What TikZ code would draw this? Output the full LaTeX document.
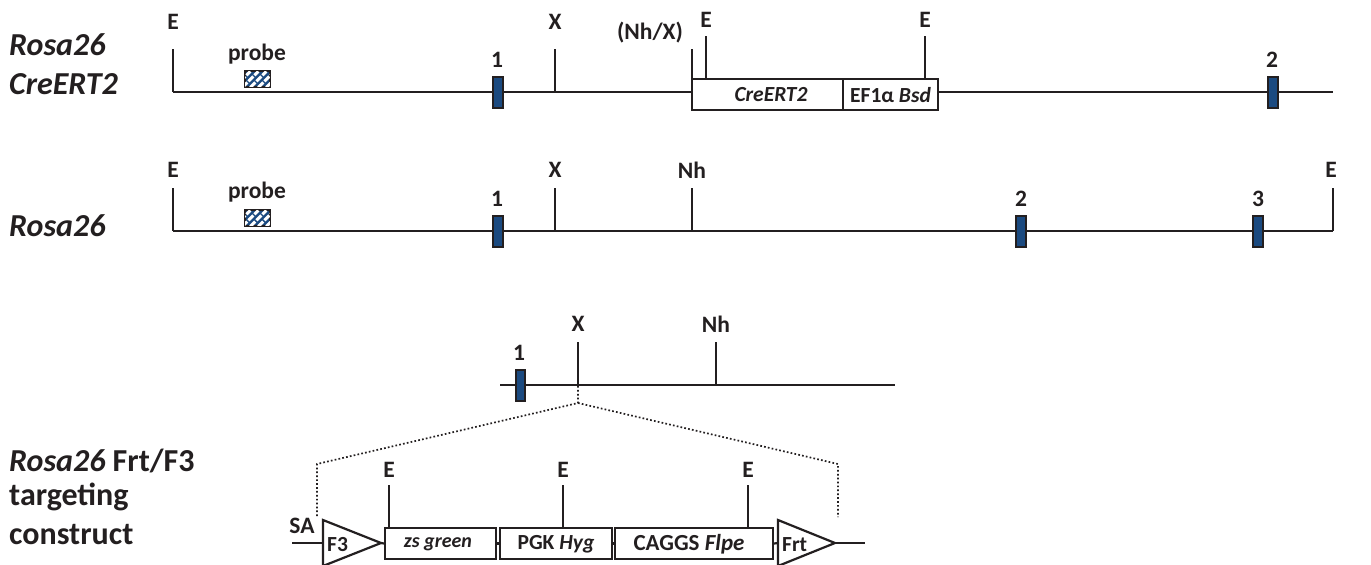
\documentclass[tikz,border=0pt]{standalone}
\usepackage{fontspec}
\setmainfont{Carlito}
\definecolor{exonblue}{HTML}{1B4A80}
\definecolor{ink}{HTML}{231F20}
\tikzset{
  x=1pt,y=-1pt,
  backbone/.style={draw=ink,line width=2.2pt},
  sitetick/.style={draw=ink,line width=2.5pt},
  lbl/.style={font=\bfseries\fontsize{23.5}{26}\selectfont,text=ink,inner sep=0pt,anchor=center},
  inlbl/.style={font=\bfseries\fontsize{21.5}{24}\selectfont,text=ink,inner sep=0pt,anchor=center},
  title/.style={font=\bfseries\fontsize{32}{36}\selectfont,text=ink,inner sep=0pt,anchor=west},
  exon/.style={draw=ink,fill=exonblue,line width=1.7pt,minimum width=9.5pt,minimum height=31pt,inner sep=0pt},
  cassette/.style={draw=ink,fill=white,line width=2.2pt,inner sep=0pt},
  dots/.style={draw=ink,line width=1.7pt,dash pattern=on 1.7pt off 2.2pt},
  probebox/.style={draw=ink,fill=exonblue,line width=1.4pt,minimum width=25pt,minimum height=15.5pt,inner sep=0pt},
}
% name, x, top, bottom, label y, label x, text
\newcommand{\rsite}[7]{%
  \coordinate (#1t) at (#2,#3);
  \coordinate (#1b) at (#2,#4);
  \node[lbl] (#1l) at (#6,#5) {#7};
  \draw[sitetick] (#1t) -- (#1b);
}
\newcommand{\probe}[3]{%
  \node[probebox] (#1) at (#2,#3) {};
  \begin{scope}
    \clip (#1.south west) rectangle (#1.north east);
    \foreach \d in {-10,-2,6,14,22}
      \draw[white,line width=3pt,dash pattern=on 7pt off 1.6pt]
        ([xshift=\d pt]#1.south west) -- ++(16,-16);
  \end{scope}
  \draw[ink,line width=1.4pt] (#1.south west) rectangle (#1.north east);
}
\newcommand{\triang}[5]{%
  \begin{scope}
    \clip (#2-2,#3-3) rectangle (#2+60,565);
    \draw[draw=ink,fill=white,line width=2.2pt,line join=miter] (#2,#3) -- (#2+#4,#3+23) -- (#2,#3+46) -- cycle;
  \end{scope}
  \coordinate (#1l) at (#2,#3+23);
  \coordinate (#1r) at (#2+#4,#3+23);
  \node[inlbl,anchor=west] (#1) at (#2+4,#3+25) {#5};
}
\begin{document}
\begin{tikzpicture}
\useasboundingbox (0,0) rectangle (1371,565);
\fill[white] (0,0) rectangle (1371,565);

% titles
\node[title] (t1) at (9,45) {\itshape Rosa26};
\node[title] (t2) at (9,84) {\itshape CreERT2};
\node[title] (t3) at (9,226) {\itshape Rosa26};
\node[title] (t4) at (9,461) {\textit{Rosa26} Frt/F3};
\node[title] (t5) at (9,497) {targeting};
\node[title] (t6) at (9,535) {construct};

% row 1
\coordinate (a0) at (173,92);
\coordinate (a1) at (692,92);
\coordinate (a2) at (938,92);
\coordinate (a3) at (1333,92);
\draw[backbone] (a0) -- (a1);
\draw[backbone] (a2) -- (a3);
\rsite{ae}{173}{49}{92}{22}{173}{E}
\rsite{ax}{555}{49}{92}{22}{555}{X}
\rsite{an}{692}{49}{79}{33}{650}{(Nh/X)}
\rsite{ae2}{706}{36}{79}{20}{706}{E}
\rsite{ae3}{925}{36}{79}{20}{925}{E}
\node[cassette,minimum width=151pt,minimum height=31pt] (cre) at (767.5,94.5) {};
\node[cassette,minimum width=95pt,minimum height=31pt] (bsd) at (890.5,94.5) {};
\node[inlbl] (crel) at (771,95) {\textit{CreERT2}};
\node[inlbl] (bsdl) at (890.5,95) {EF1α \textit{Bsd}};
\node[exon] (a_x1) at (498,92.5) {};
\node[exon] (a_x2) at (1273,92.5) {};
\node[lbl] (a_n1) at (497,60) {1};
\node[lbl] (a_n2) at (1272,60) {2};
\node[lbl] (a_p) at (257,54) {probe};
\probe{apb}{257.5}{79}

% row 2
\coordinate (b0) at (173,231);
\coordinate (b3) at (1333,231);
\draw[backbone] (b0) -- (b3);
\rsite{be}{173}{188}{231}{170}{173}{E}
\rsite{bx}{555}{188}{231}{170}{555}{X}
\rsite{bn}{692}{188}{231}{170}{692}{Nh}
\rsite{be2}{1333}{188}{231}{170}{1331}{E}
\node[exon] (b_x1) at (498,231.5) {};
\node[exon] (b_x2) at (1021,231.5) {};
\node[exon] (b_x3) at (1258,231.5) {};
\node[lbl] (b_n1) at (497,199) {1};
\node[lbl] (b_n2) at (1021,199) {2};
\node[lbl] (b_n3) at (1258,199) {3};
\node[lbl] (b_p) at (257,192) {probe};
\probe{bpb}{257.5}{218}

% row 3
\coordinate (c0) at (500,385);
\coordinate (c3) at (895,385);
\draw[backbone] (c0) -- (c3);
\rsite{cx}{578}{342}{385}{324}{578}{X}
\rsite{cn}{716}{342}{385}{324}{716}{Nh}
\node[exon] (c_x1) at (520.5,385.5) {};
\node[lbl] (c_n1) at (519,353) {1};

% dotted expansion
\coordinate (d0) at (578,386);
\coordinate (d1) at (578,403);
\coordinate (dl1) at (317,464);
\coordinate (dl2) at (317,517);
\coordinate (dr1) at (838,464);
\coordinate (dr2) at (838,517);
\draw[dots] (d0) -- (d1) -- (dl1) -- (dl2);
\draw[dots] (d1) -- (dr1) -- (dr2);

% construct
\coordinate (sa) at (292,543);
\coordinate (endc) at (865,543);
\node[lbl] (sal) at (302,526) {SA};
\rsite{de1}{389}{485}{528}{470}{389}{E}
\rsite{de2}{563}{485}{528}{470}{563}{E}
\rsite{de3}{748}{485}{528}{470}{748}{E}
\node[cassette,minimum width=111pt,minimum height=31pt] (zs) at (440.5,543.5) {};
\node[cassette,minimum width=112pt,minimum height=31pt] (pgk) at (556,543.5) {};
\node[cassette,minimum width=158pt,minimum height=31pt] (cag) at (694,543.5) {};
\node[inlbl,font=\bfseries\fontsize{20}{24}\selectfont] (zsl) at (438,544) {\textit{zs green}};
\node[inlbl] (pgkl) at (556,544) {PGK \textit{Hyg}};
\node[inlbl,font=\bfseries\fontsize{23}{24}\selectfont] (cagl) at (689,544) {CAGGS \textit{Flpe}};
\draw[backbone] (zs.east) -- (pgk.west);
\draw[backbone] (pgk.east) -- (cag.west);
\triang{f3}{323}{520}{58}{F3}
\triang{frt}{778}{520}{57}{Frt}
\draw[backbone] (sa) -- (f3l);
\draw[backbone] (f3r) -- (zs.west);
\draw[backbone] (cag.east) -- (frtl);
\draw[backbone] (frtr) -- (endc);
\end{tikzpicture}
\end{document}
